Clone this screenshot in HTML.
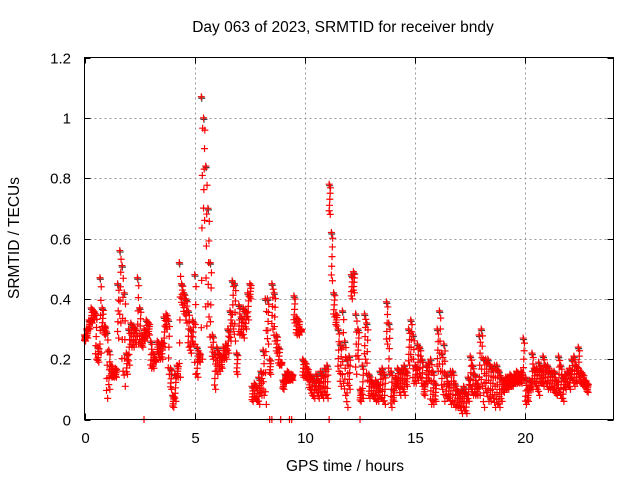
<!DOCTYPE html>
<html><head><meta charset="utf-8"><style>
html,body{margin:0;padding:0;background:#fff;}
svg{display:block;font-family:"Liberation Sans",sans-serif;}
</style></head><body>
<svg id="chart" width="640" height="480">
<text x="343" y="32" font-size="15.5" text-anchor="middle">Day 063 of 2023, SRMTID for receiver bndy</text>
<text x="345" y="471" font-size="15.5" text-anchor="middle">GPS time / hours</text>
<text transform="translate(19,238) rotate(-90)" font-size="15.5" text-anchor="middle">SRMTID / TECUs</text>
<g id="grid"></g><g id="ticks"></g><g id="marks"></g>
<rect x="84.5" y="57.5" width="529" height="362" fill="none" stroke="#000"/>
</svg>
<script>
const xTicks=[0,5,10,15,20];
const yTicks=[0,0.2,0.4,0.6,0.8,1,1.2];
const yTickLabels=["0","0.2","0.4","0.6","0.8","1","1.2"];
const tStart=0, tStep=0.1;
const hiVals=[0.28,0.30,0.33,0.37,0.36,0.35,0.24,0.47,0.37,0.31,
0.29,0.23,0.18,0.16,0.17,0.45,0.56,0.51,0.42,0.22,
0.30,0.32,0.31,0.30,0.47,0.37,0.28,0.30,0.33,0.32,
0.26,0.22,0.20,0.26,0.25,0.26,0.34,0.35,0.33,0.17,
0.08,0.15,0.18,0.52,0.45,0.42,0.40,0.36,0.30,0.33,
0.48,0.24,0.22,1.07,1.0,0.84,0.70,0.52,0.28,0.22,
0.24,0.22,0.21,0.24,0.25,0.30,0.36,0.46,0.45,0.22,
0.38,0.34,0.37,0.36,0.42,0.45,0.11,0.12,0.11,0.14,
0.16,0.23,0.40,0.40,0.20,0.45,0.42,0.28,0.24,0.19,
0.13,0.15,0.16,0.14,0.15,0.41,0.34,0.33,0.30,0.20,
0.19,0.17,0.15,0.14,0.13,0.15,0.13,0.16,0.15,0.17,
0.18,0.78,0.62,0.42,0.35,0.30,0.25,0.36,0.26,0.20,
0.21,0.48,0.49,0.35,0.30,0.10,0.18,0.35,0.32,0.15,
0.13,0.12,0.13,0.12,0.16,0.17,0.15,0.39,0.32,0.16,
0.10,0.14,0.17,0.16,0.17,0.18,0.16,0.30,0.33,0.28,
0.18,0.25,0.24,0.20,0.12,0.18,0.19,0.20,0.16,0.12,
0.30,0.36,0.22,0.25,0.15,0.12,0.16,0.16,0.12,0.10,
0.09,0.10,0.11,0.09,0.14,0.21,0.18,0.15,0.12,0.28,
0.30,0.20,0.20,0.20,0.18,0.17,0.18,0.18,0.16,0.14,
0.13,0.14,0.14,0.15,0.14,0.15,0.16,0.15,0.16,0.27,
0.14,0.10,0.13,0.22,0.17,0.17,0.19,0.17,0.21,0.18,
0.18,0.16,0.16,0.16,0.13,0.21,0.18,0.14,0.15,0.16,
0.17,0.20,0.21,0.18,0.24,0.16,0.15,0.13,0.12];
const loVals=[0.26,0.27,0.30,0.32,0.33,0.20,0.19,0.22,0.30,0.28,
0.07,0.10,0.14,0.14,0.14,0.27,0.32,0.16,0.11,0.15,
0.18,0.24,0.24,0.25,0.25,0.25,0.24,0.26,0.27,0.28,
0.17,0.17,0.19,0.22,0.20,0.20,0.24,0.30,0.15,0.10,
0.04,0.06,0.14,0.14,0.38,0.35,0.32,0.24,0.22,0.25,
0.15,0.14,0.19,0.20,0.66,0.31,0.34,0.24,0.20,0.10,
0.15,0.16,0.17,0.20,0.20,0.22,0.26,0.30,0.26,0.15,
0.28,0.28,0.27,0.30,0.33,0.40,0.06,0.07,0.06,0.05,
0.08,0.08,0.05,0.25,0.15,0.30,0.26,0.22,0.18,0.18,
0.10,0.12,0.13,0.13,0.13,0.32,0.28,0.28,0.29,0.14,
0.14,0.13,0.10,0.08,0.07,0.09,0.07,0.08,0.07,0.08,
0.07,0.68,0.46,0.34,0.31,0.16,0.11,0.12,0.08,0.04,
0.10,0.40,0.42,0.15,0.20,0.06,0.07,0.20,0.13,0.07,
0.08,0.07,0.06,0.06,0.07,0.06,0.05,0.25,0.15,0.04,
0.06,0.11,0.11,0.08,0.10,0.08,0.11,0.18,0.20,0.12,
0.12,0.13,0.14,0.11,0.08,0.12,0.13,0.05,0.05,0.06,
0.16,0.16,0.10,0.06,0.07,0.07,0.05,0.05,0.04,0.04,
0.04,0.02,0.03,0.02,0.06,0.10,0.08,0.08,0.08,0.08,
0.11,0.04,0.09,0.06,0.06,0.07,0.04,0.05,0.04,0.06,
0.09,0.10,0.10,0.11,0.11,0.12,0.12,0.12,0.12,0.13,
0.05,0.06,0.10,0.10,0.12,0.10,0.08,0.12,0.11,0.12,
0.10,0.10,0.10,0.09,0.08,0.09,0.07,0.06,0.10,0.11,
0.10,0.13,0.11,0.12,0.14,0.12,0.11,0.11,0.09];
const zeroTimes=[2.7,8.4,8.5,8.9,9.3,9.4,11.1,12.5];

const X0=84.5,X1=613.5,Y0=419.5,Y1=57.5;
const xs=t=>X0+(t-0)/24*(X1-X0);
const ys=v=>Y0-(v-0)/1.2*(Y0-Y1);
const NS="http://www.w3.org/2000/svg";
function mk(tag,attrs,parent){const e=document.createElementNS(NS,tag);for(const k in attrs)e.setAttribute(k,attrs[k]);parent.appendChild(e);return e;}
const grid=document.getElementById('grid'),ticks=document.getElementById('ticks'),marks=document.getElementById('marks');
xTicks.forEach(t=>{const x=Math.round(xs(t))+0.5;
 if(t>0){const g=mk('line',{x1:x,x2:x,y1:Y1,y2:Y0,stroke:'#999','stroke-dasharray':'2,3'},grid);
 
 }
 mk('line',{x1:x,x2:x,y1:Y0,y2:Y0-6,stroke:'#000'},ticks);
 mk('line',{x1:x,x2:x,y1:Y1,y2:Y1+6,stroke:'#000'},ticks);
 const l=mk('text',{x:x,y:443,'font-size':15,'text-anchor':'middle'},ticks);l.textContent=t;
 
 });
yTicks.forEach((v,i)=>{const y=Math.round(ys(v))+0.5;
 if(v>0&&v<1.2){const g=mk('line',{x1:X0,x2:X1,y1:y,y2:y,stroke:'#999','stroke-dasharray':'2,3'},grid);
 
 }
 mk('line',{x1:X0,x2:X0+6,y1:y,y2:y,stroke:'#000'},ticks);
 mk('line',{x1:X1,x2:X1-6,y1:y,y2:y,stroke:'#000'},ticks);
 const l=mk('text',{x:71,y:y+5,'font-size':15,'text-anchor':'end'},ticks);l.textContent=yTickLabels[i];
 
 });
function plus(t,v,color){const x=xs(t),y=ys(v);
 const p=mk('path',{d:`M${x-3.5},${y}H${x+3.5}M${x},${y-3.5}V${y+3.5}`,stroke:color,'stroke-width':1.2,fill:'none'},marks);
 
 }
hiVals.forEach((v,i)=>{const t=tStart+i*tStep;plus(t+0.02,v-0.005,'#444');});
hiVals.forEach((v,i)=>{const t=tStart+i*tStep;const lo=loVals[i];
 plus(t,v,'#f00');plus(t+0.05,lo,'#f00');
 [0.12,0.3,0.5,0.7,0.88].forEach((f,k)=>plus(t+0.015*k,lo+(v-lo)*f,'#f00'));});
zeroTimes.forEach(t=>plus(t,0,'#f00'));
</script>
</body></html>
